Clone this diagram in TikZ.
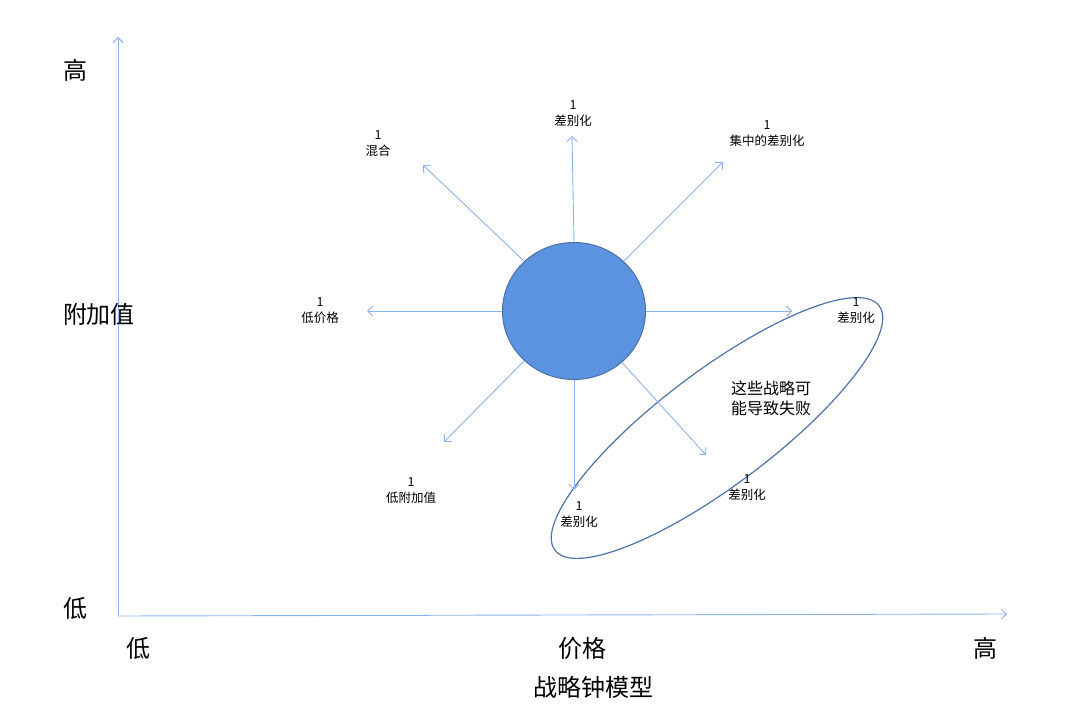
\documentclass[tikz,border=0pt]{standalone}
\usepackage{fontspec}
\setmainfont{Noto Sans CJK SC}
\usetikzlibrary{arrows.meta,shapes.geometric}
\definecolor{raycol}{HTML}{8DB3EE}
\definecolor{corefill}{HTML}{5B93E1}
\definecolor{coreline}{HTML}{4C70A8}
\definecolor{ringcol}{HTML}{4F72AA}
\tikzset{%
  axis line/.style={draw=raycol, line width=0.9pt,
    -{Straight Barb[length=5pt,width=10pt]}},
  ray/.style={draw=raycol, line width=0.9pt,
    -{Straight Barb[length=5pt,width=10pt]}},
  big label/.style={font=\fontsize{24}{28}\selectfont, inner sep=0pt},
  small label/.style={font=\fontsize{12.5}{16}\selectfont, align=center, inner sep=0pt},
  core/.style={ellipse, fill=corefill, draw=coreline, line width=1pt,
    minimum width=143pt, minimum height=137pt, inner sep=0pt}
}

\begin{document}
\begin{tikzpicture}[x=1pt, y=-1pt]
		\useasboundingbox (0,0) rectangle (1080,706);
		% axes
		\coordinate (origin) at (118,616);
		\coordinate (ytip) at (118,37);
		\coordinate (xtip) at (1007,614);
		\draw [axis line] (origin) -- (ytip);
		\draw [axis line] (origin) -- (xtip);
		\node [big label] (yhigh) at (75,70) {高};
		\node [big label] (yname) at (99,314) {附加值};
		\node [big label] (ylow) at (75,608) {低};
		\node [big label] (xlow) at (138,648) {低};
		\node [big label] (xname) at (582,648) {价格};
		\node [big label] (xhigh) at (985,648) {高};
		\node [big label] (title) at (593,687) {战略钟模型};
		% failure zone
		\draw [ringcol, line width=1.2pt, rotate around={37:(717,428)}]
		  (717,428) ellipse [x radius=203, y radius=57];
		\node [font=\fontsize{16}{20}\selectfont, align=center, inner sep=0pt]
		  (fail) at (771,398) {这些战略可\\能导致失败};
		% clock centre and rays
		\node [core] (bell) at (574,311) {};
		\coordinate (tipN)  at (572,136);
		\coordinate (tipNW) at (423,165);
		\coordinate (tipNE) at (723,162);
		\coordinate (tipW)  at (367,311);
		\coordinate (tipE)  at (792,311);
		\coordinate (tipSW) at (444,442);
		\coordinate (tipS)  at (574,490);
		\coordinate (tipSE) at (706,455);
		\draw [ray] (bell.north) -- (tipN);
		\draw [ray] (bell.135) -- (tipNW);
		\draw [ray] (bell.45) -- (tipNE);
		\draw [ray] (bell.west) -- (tipW);
		\draw [ray] (bell.east) -- (tipE);
		\draw [ray] (bell.225) -- (tipSW);
		\draw [ray] (bell.south) -- (tipS);
		\draw [ray] (bell.-47) -- (tipSE);
		% strategy labels
		\node [small label] (lN)  at (573,114) {1\\差别化};
		\node [small label] (lNW) at (378,144) {1\\混合};
		\node [small label] (lNE) at (767,134) {1\\集中的差别化};
		\node [small label] (lW)  at (320,311) {1\\低价格};
		\node [small label] (lE)  at (856,311) {1\\差别化};
		\node [small label] (lSW) at (411,491) {1\\低附加值};
		\node [small label] (lS)  at (579,515) {1\\差别化};
		\node [small label] (lSE) at (747,488) {1\\差别化};
	\end{tikzpicture}
\end{document}
